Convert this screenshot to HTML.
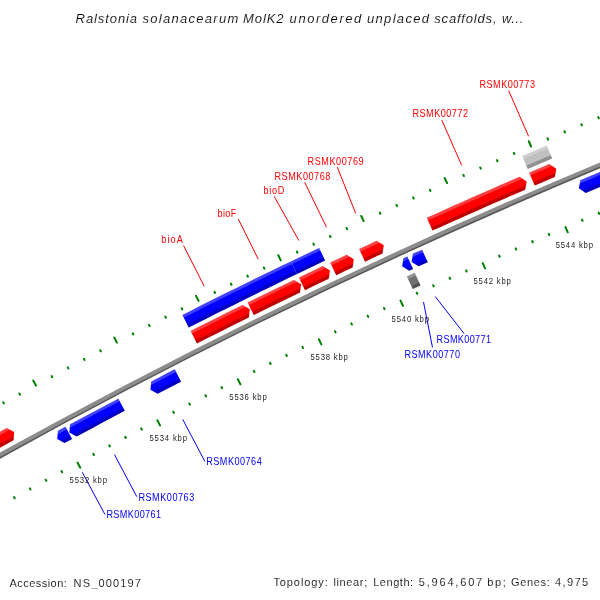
<!DOCTYPE html>
<html><head><meta charset="utf-8"><style>
html,body{margin:0;padding:0;background:#fff;width:600px;height:600px;overflow:hidden}
svg{display:block;font-family:"Liberation Sans",sans-serif;will-change:transform}
</style></head><body>
<svg width="600" height="600" viewBox="0 0 600 600">
<rect width="600" height="600" fill="#fff"/>
<defs><clipPath id="c0"><polygon points="182.42,314.94 191.42,310.4 200.43,305.86 209.44,301.35 218.47,296.85 227.5,292.36 236.54,287.89 245.58,283.44 254.64,279 263.7,274.57 272.77,270.16 281.84,265.77 290.93,261.39 297,274.01 287.93,278.37 278.88,282.76 269.83,287.16 260.79,291.57 251.76,296 242.73,300.45 233.72,304.91 224.71,309.38 215.7,313.87 206.71,318.38 197.72,322.9 188.74,327.43"/></clipPath>
<clipPath id="c1"><polygon points="290.93,261.39 300.31,256.89 309.7,252.4 319.1,247.93 325.1,260.57 315.73,265.03 306.36,269.51 297,274.01"/></clipPath>
<clipPath id="c2"><polygon points="522.26,156.05 530.4,152.55 538.56,149.07 546.71,145.59 552.19,158.48 544.05,161.94 535.92,165.42 527.79,168.91"/></clipPath>
<clipPath id="c3"><polygon points="-27.53,447.06 -18.97,442.28 -10.4,437.52 -1.83,432.78 6.75,428.05 14.17,431.96 13.5,440.31 4.94,445.03 -3.61,449.77 -12.16,454.52 -20.7,459.28"/></clipPath>
<clipPath id="c4"><polygon points="190.64,330.95 199.28,326.59 207.92,322.24 216.58,317.91 225.24,313.59 233.9,309.28 242.58,304.99 249.81,309.22 248.78,317.54 240.12,321.82 231.48,326.12 222.84,330.43 214.21,334.75 205.58,339.09 196.96,343.45"/></clipPath>
<clipPath id="c5"><polygon points="247.56,302.53 256.81,297.98 266.08,293.44 275.35,288.92 284.63,284.42 293.91,279.93 301.1,284.24 299.99,292.54 290.73,297.02 281.47,301.51 272.22,306.02 262.98,310.54 253.75,315.09"/></clipPath>
<clipPath id="c6"><polygon points="298.92,277.52 306.86,273.71 314.8,269.91 322.75,266.12 329.91,270.47 328.76,278.76 320.83,282.54 312.91,286.33 304.99,290.14"/></clipPath>
<clipPath id="c7"><polygon points="330.23,262.57 338.42,258.69 346.62,254.83 353.77,259.2 352.58,267.5 344.4,271.35 336.22,275.22"/></clipPath>
<clipPath id="c8"><polygon points="359.15,248.96 367.89,244.88 376.64,240.82 383.76,245.23 382.52,253.52 373.8,257.57 365.08,261.64"/></clipPath>
<clipPath id="c9"><polygon points="426.76,217.86 436.02,213.68 445.28,209.52 454.55,205.37 463.83,201.24 473.12,197.12 482.41,193.02 491.71,188.94 501.01,184.87 510.33,180.81 519.65,176.78 526.65,181.38 525.2,189.63 515.9,193.66 506.61,197.7 497.33,201.76 488.05,205.83 478.78,209.92 469.52,214.03 460.26,218.15 451.01,222.29 441.77,226.45 432.53,230.61"/></clipPath>
<clipPath id="c10"><polygon points="529.18,172.67 535.89,169.79 542.6,166.91 549.32,164.05 556.3,168.68 554.8,176.93 548.1,179.79 541.4,182.65 534.71,185.53"/></clipPath>
<clipPath id="c11"><polygon points="57.22,439.11 57.97,430.86 65.5,426.79 72.05,438.94 64.53,443"/></clipPath>
<clipPath id="c12"><polygon points="69.32,432.57 70.09,424.32 78.12,420.01 86.15,415.71 94.2,411.42 102.24,407.15 110.3,402.89 118.36,398.64 124.79,410.85 116.74,415.09 108.71,419.34 100.68,423.61 92.66,427.88 84.64,432.17 76.63,436.47"/></clipPath>
<clipPath id="c13"><polygon points="150.39,389.68 151.29,381.44 159.1,377.4 166.92,373.37 174.75,369.35 181.05,381.63 173.24,385.64 165.44,389.66 157.64,393.7"/></clipPath>
<clipPath id="c14"><polygon points="402.15,266.37 403.43,258.18 407.32,256.39 413.08,268.94 409.2,270.72"/></clipPath>
<clipPath id="c15"><polygon points="411.62,262.01 412.92,253.83 422.03,249.66 427.75,262.22 418.66,266.37"/></clipPath>
<clipPath id="c16"><polygon points="578.81,188.36 580.36,180.22 589.24,176.48 598.13,172.76 607.02,169.06 615.92,165.37 624.82,161.69 633.74,158.03 638.97,170.79 630.08,174.45 621.2,178.12 612.32,181.8 603.45,185.5 594.58,189.21 585.72,192.94"/></clipPath>
<clipPath id="c17"><polygon points="406.89,276.4 414.74,272.8 420.58,285.52 412.75,289.12"/></clipPath></defs>
<path d="M-71.88 496.16 A5984.6 5984.6 0 0 1 670.13 136.66" stroke="#8c8c8c" stroke-width="5.3" fill="none"/>
<path d="M-70.93 497.81 A5982.7 5982.7 0 0 1 670.84 138.43" stroke="#000" stroke-opacity="0.38" stroke-width="1.5" fill="none"/>
<polygon points="182.42,314.94 191.42,310.4 200.43,305.86 209.44,301.35 218.47,296.85 227.5,292.36 236.54,287.89 245.58,283.44 254.64,279 263.7,274.57 272.77,270.16 281.84,265.77 290.93,261.39 297,274.01 287.93,278.37 278.88,282.76 269.83,287.16 260.79,291.57 251.76,296 242.73,300.45 233.72,304.91 224.71,309.38 215.7,313.87 206.71,318.38 197.72,322.9 188.74,327.43" fill="#0000ff"/>
<g clip-path="url(#c0)">
<polygon points="172.59,318.8 181.64,314.22 190.7,309.64 199.76,305.08 208.83,300.54 217.91,296.01 227,291.49 236.1,287 245.2,282.51 254.31,278.05 263.43,273.59 272.55,269.16 281.68,264.74 290.82,260.33 299.97,255.94 301.67,259.49 292.53,263.88 283.4,268.28 274.27,272.7 265.15,277.14 256.04,281.58 246.94,286.05 237.84,290.53 228.75,295.02 219.67,299.54 210.59,304.06 201.53,308.6 192.47,313.16 183.42,317.73 174.37,322.32" fill="#fff" fill-opacity="0.25"/>
<polygon points="177.8,329.06 186.83,324.48 195.87,319.91 204.92,315.36 213.97,310.82 223.04,306.3 232.11,301.8 241.19,297.31 250.27,292.83 259.36,288.38 268.46,283.93 277.57,279.5 286.69,275.09 295.81,270.69 304.94,266.31 306.88,270.37 297.76,274.75 288.64,279.14 279.54,283.55 270.43,287.98 261.34,292.42 252.26,296.87 243.18,301.34 234.11,305.83 225.04,310.33 215.99,314.85 206.94,319.38 197.9,323.93 188.86,328.49 179.84,333.07" fill="#000" fill-opacity="0.25"/>
</g>
<polygon points="290.93,261.39 300.31,256.89 309.7,252.4 319.1,247.93 325.1,260.57 315.73,265.03 306.36,269.51 297,274.01" fill="#0000ff"/>
<g clip-path="url(#c1)">
<polygon points="281.02,265.06 290.44,260.52 299.86,255.99 309.29,251.49 318.73,247 328.17,242.52 329.86,246.08 320.42,250.56 310.98,255.04 301.56,259.55 292.14,264.07 282.74,268.6" fill="#fff" fill-opacity="0.25"/>
<polygon points="286.03,275.41 295.42,270.88 304.83,266.36 314.24,261.87 323.66,257.38 333.09,252.92 335.01,256.99 325.59,261.45 316.17,265.93 306.77,270.42 297.37,274.93 287.98,279.46" fill="#000" fill-opacity="0.25"/>
</g>
<polygon points="522.26,156.05 530.4,152.55 538.56,149.07 546.71,145.59 552.19,158.48 544.05,161.94 535.92,165.42 527.79,168.91" fill="#c0c0c0"/>
<g clip-path="url(#c2)">
<polygon points="512.21,159.29 520.95,155.52 529.71,151.76 538.47,148.02 547.23,144.29 556,140.57 557.54,144.2 548.77,147.91 540.01,151.64 531.26,155.38 522.51,159.14 513.77,162.91" fill="#fff" fill-opacity="0.25"/>
<polygon points="516.77,169.85 525.5,166.09 534.24,162.33 542.98,158.6 551.73,154.87 560.48,151.16 562.23,155.31 553.49,159.01 544.74,162.74 536.01,166.47 527.28,170.22 518.55,173.98" fill="#000" fill-opacity="0.25"/>
</g>
<polygon points="-27.53,447.06 -18.97,442.28 -10.4,437.52 -1.83,432.78 6.75,428.05 14.17,431.96 13.5,440.31 4.94,445.03 -3.61,449.77 -12.16,454.52 -20.7,459.28" fill="#ff0000"/>
<g clip-path="url(#c3)">
<polygon points="-37.16,451.31 -29.09,446.78 -21.01,442.27 -12.92,437.78 -4.82,433.29 3.28,428.82 11.39,424.36 19.51,419.91 21.4,423.36 13.29,427.81 5.18,432.27 -2.91,436.74 -11,441.22 -19.09,445.72 -27.16,450.22 -35.23,454.74" fill="#fff" fill-opacity="0.25"/>
<polygon points="-31.53,461.34 -23.47,456.82 -15.41,452.32 -7.34,447.83 0.74,443.35 8.83,438.89 16.93,434.44 25.03,430 27.19,433.94 19.09,438.38 11,442.83 2.92,447.29 -5.15,451.76 -13.22,456.25 -21.28,460.75 -29.33,465.26" fill="#000" fill-opacity="0.25"/>
</g>
<polygon points="190.64,330.95 199.28,326.59 207.92,322.24 216.58,317.91 225.24,313.59 233.9,309.28 242.58,304.99 249.81,309.22 248.78,317.54 240.12,321.82 231.48,326.12 222.84,330.43 214.21,334.75 205.58,339.09 196.96,343.45" fill="#ff0000"/>
<g clip-path="url(#c4)">
<polygon points="180.84,334.8 190.17,330.07 199.5,325.36 208.84,320.66 218.19,315.98 227.55,311.32 236.92,306.67 246.29,302.04 255.68,297.42 257.41,300.96 248.04,305.57 238.67,310.2 229.31,314.84 219.95,319.51 210.61,324.18 201.27,328.88 191.94,333.59 182.62,338.32" fill="#fff" fill-opacity="0.25"/>
<polygon points="186.05,345.06 195.36,340.33 204.67,335.63 214,330.94 223.33,326.27 232.67,321.61 242.02,316.97 251.38,312.35 260.75,307.74 262.73,311.78 253.37,316.39 244.02,321.01 234.68,325.64 225.34,330.3 216.02,334.96 206.7,339.65 197.39,344.35 188.09,349.07" fill="#000" fill-opacity="0.25"/>
</g>
<polygon points="247.56,302.53 256.81,297.98 266.08,293.44 275.35,288.92 284.63,284.42 293.91,279.93 301.1,284.24 299.99,292.54 290.73,297.02 281.47,301.51 272.22,306.02 262.98,310.54 253.75,315.09" fill="#ff0000"/>
<g clip-path="url(#c5)">
<polygon points="237.72,306.27 246.37,302 255.02,297.74 263.68,293.5 272.35,289.27 281.02,285.05 289.7,280.85 298.39,276.66 307.09,272.49 308.79,276.04 300.1,280.21 291.42,284.4 282.74,288.6 274.07,292.81 265.41,297.04 256.76,301.28 248.11,305.54 239.47,309.8" fill="#fff" fill-opacity="0.25"/>
<polygon points="242.82,316.58 251.45,312.32 260.09,308.07 268.73,303.83 277.38,299.61 286.04,295.4 294.71,291.21 303.38,287.03 312.05,282.86 314,286.92 305.33,291.08 296.66,295.26 288,299.45 279.35,303.65 270.71,307.87 262.07,312.11 253.44,316.35 244.82,320.61" fill="#000" fill-opacity="0.25"/>
</g>
<polygon points="298.92,277.52 306.86,273.71 314.8,269.91 322.75,266.12 329.91,270.47 328.76,278.76 320.83,282.54 312.91,286.33 304.99,290.14" fill="#ff0000"/>
<g clip-path="url(#c6)">
<polygon points="289.04,281.17 298.41,276.65 307.79,272.15 317.17,267.67 326.56,263.2 335.96,258.75 337.64,262.31 328.25,266.76 318.86,271.23 309.49,275.71 300.12,280.21 290.76,284.72" fill="#fff" fill-opacity="0.25"/>
<polygon points="294.05,291.53 303.4,287.02 312.75,282.53 322.12,278.05 331.49,273.59 340.87,269.15 342.79,273.22 333.42,277.66 324.05,282.11 314.7,286.58 305.35,291.07 296,295.58" fill="#000" fill-opacity="0.25"/>
</g>
<polygon points="330.23,262.57 338.42,258.69 346.62,254.83 353.77,259.2 352.58,267.5 344.4,271.35 336.22,275.22" fill="#ff0000"/>
<g clip-path="url(#c7)">
<polygon points="320.33,266.16 328.23,262.41 336.13,258.67 344.04,254.94 351.95,251.22 359.87,247.52 361.54,251.09 353.62,254.79 345.71,258.51 337.81,262.23 329.91,265.97 322.02,269.72" fill="#fff" fill-opacity="0.25"/>
<polygon points="325.27,276.55 333.15,272.8 341.04,269.07 348.93,265.35 356.83,261.63 364.74,257.94 366.64,262.01 358.74,265.71 350.85,269.42 342.96,273.14 335.08,276.87 327.21,280.61" fill="#000" fill-opacity="0.25"/>
</g>
<polygon points="359.15,248.96 367.89,244.88 376.64,240.82 383.76,245.23 382.52,253.52 373.8,257.57 365.08,261.64" fill="#ff0000"/>
<g clip-path="url(#c8)">
<polygon points="349.23,252.5 357.36,248.69 365.49,244.89 373.63,241.11 381.77,237.34 389.92,233.58 391.57,237.16 383.42,240.91 375.29,244.68 367.16,248.46 359.03,252.26 350.91,256.06" fill="#fff" fill-opacity="0.25"/>
<polygon points="354.12,262.91 362.23,259.11 370.35,255.32 378.47,251.54 386.6,247.78 394.73,244.02 396.61,248.11 388.49,251.86 380.36,255.62 372.25,259.4 364.14,263.18 356.04,266.98" fill="#000" fill-opacity="0.25"/>
</g>
<polygon points="426.76,217.86 436.02,213.68 445.28,209.52 454.55,205.37 463.83,201.24 473.12,197.12 482.41,193.02 491.71,188.94 501.01,184.87 510.33,180.81 519.65,176.78 526.65,181.38 525.2,189.63 515.9,193.66 506.61,197.7 497.33,201.76 488.05,205.83 478.78,209.92 469.52,214.03 460.26,218.15 451.01,222.29 441.77,226.45 432.53,230.61" fill="#ff0000"/>
<g clip-path="url(#c9)">
<polygon points="416.8,221.28 425.71,217.24 434.63,213.21 443.55,209.2 452.47,205.2 461.41,201.22 470.35,197.25 479.3,193.3 488.25,189.36 497.21,185.44 506.18,181.53 515.15,177.63 524.13,173.75 533.12,169.89 534.67,173.51 525.69,177.37 516.72,181.25 507.75,185.14 498.79,189.05 489.83,192.97 480.89,196.9 471.95,200.86 463.01,204.82 454.08,208.8 445.16,212.79 436.24,216.8 427.34,220.83 418.43,224.86" fill="#fff" fill-opacity="0.25"/>
<polygon points="421.56,231.75 430.45,227.71 439.35,223.7 448.25,219.69 457.17,215.7 466.08,211.73 475.01,207.77 483.94,203.82 492.87,199.89 501.82,195.97 510.77,192.07 519.72,188.19 528.68,184.31 537.65,180.45 539.43,184.59 530.46,188.44 521.51,192.31 512.56,196.2 503.62,200.1 494.68,204.01 485.75,207.94 476.83,211.88 467.91,215.84 459,219.81 450.1,223.8 441.2,227.8 432.31,231.81 423.42,235.84" fill="#000" fill-opacity="0.25"/>
</g>
<polygon points="529.18,172.67 535.89,169.79 542.6,166.91 549.32,164.05 556.3,168.68 554.8,176.93 548.1,179.79 541.4,182.65 534.71,185.53" fill="#ff0000"/>
<g clip-path="url(#c10)">
<polygon points="519.15,175.9 527.88,172.14 536.6,168.39 545.34,164.66 554.08,160.94 562.82,157.23 564.35,160.86 555.62,164.56 546.88,168.28 538.15,172.01 529.43,175.76 520.72,179.52" fill="#fff" fill-opacity="0.25"/>
<polygon points="523.72,186.46 532.42,182.7 541.13,178.96 549.85,175.23 558.57,171.52 567.3,167.82 569.05,171.97 560.33,175.66 551.61,179.37 542.9,183.1 534.2,186.84 525.5,190.59" fill="#000" fill-opacity="0.25"/>
</g>
<polygon points="57.22,439.11 57.97,430.86 65.5,426.79 72.05,438.94 64.53,443" fill="#0000ff"/>
<g clip-path="url(#c11)">
<polygon points="44.28,437.15 51.76,433.09 59.24,429.04 66.72,425 74.21,420.97 76.06,424.4 68.57,428.43 61.09,432.47 53.62,436.51 46.15,440.57" fill="#fff" fill-opacity="0.25"/>
<polygon points="49.71,447.12 57.17,443.06 64.63,439.02 72.1,434.99 79.58,430.97 81.69,434.89 74.22,438.91 66.75,442.94 59.29,446.98 51.84,451.02" fill="#000" fill-opacity="0.25"/>
</g>
<polygon points="69.32,432.57 70.09,424.32 78.12,420.01 86.15,415.71 94.2,411.42 102.24,407.15 110.3,402.89 118.36,398.64 124.79,410.85 116.74,415.09 108.71,419.34 100.68,423.61 92.66,427.88 84.64,432.17 76.63,436.47" fill="#0000ff"/>
<g clip-path="url(#c12)">
<polygon points="56.39,430.58 65.21,425.82 74.03,421.07 82.86,416.34 91.7,411.62 100.55,406.92 109.4,402.23 118.26,397.56 127.13,392.9 128.94,396.36 120.08,401.01 111.22,405.68 102.37,410.36 93.53,415.06 84.7,419.77 75.87,424.5 67.06,429.25 58.25,434" fill="#fff" fill-opacity="0.25"/>
<polygon points="61.79,440.56 70.59,435.81 79.4,431.07 88.21,426.35 97.03,421.64 105.87,416.95 114.7,412.27 123.55,407.6 132.4,402.96 134.47,406.9 125.62,411.54 116.78,416.2 107.95,420.88 99.13,425.57 90.31,430.27 81.5,434.99 72.7,439.72 63.91,444.47" fill="#000" fill-opacity="0.25"/>
</g>
<polygon points="150.39,389.68 151.29,381.44 159.1,377.4 166.92,373.37 174.75,369.35 181.05,381.63 173.24,385.64 165.44,389.66 157.64,393.7" fill="#0000ff"/>
<g clip-path="url(#c13)">
<polygon points="137.49,387.49 146.7,382.7 155.91,377.93 165.12,373.17 174.35,368.43 183.59,363.7 185.36,367.18 176.13,371.9 166.91,376.64 157.7,381.39 148.49,386.16 139.3,390.94" fill="#fff" fill-opacity="0.25"/>
<polygon points="142.74,397.55 151.93,392.77 161.12,388.01 170.32,383.26 179.53,378.53 188.75,373.81 190.77,377.78 181.56,382.49 172.36,387.22 163.16,391.96 153.98,396.72 144.8,401.5" fill="#000" fill-opacity="0.25"/>
</g>
<polygon points="402.15,266.37 403.43,258.18 407.32,256.39 413.08,268.94 409.2,270.72" fill="#0000ff"/>
<g clip-path="url(#c14)">
<polygon points="389.37,263.57 398.37,259.41 407.38,255.27 416.39,251.14 418.01,254.68 409,258.81 400,262.95 391.01,267.11" fill="#fff" fill-opacity="0.25"/>
<polygon points="394.14,273.87 403.12,269.72 412.11,265.58 421.11,261.46 422.96,265.51 413.97,269.63 404.99,273.76 396.01,277.91" fill="#000" fill-opacity="0.25"/>
</g>
<polygon points="411.62,262.01 412.92,253.83 422.03,249.66 427.75,262.22 418.66,266.37" fill="#0000ff"/>
<g clip-path="url(#c15)">
<polygon points="398.84,259.19 406.9,255.49 414.97,251.79 423.04,248.11 431.11,244.43 432.72,247.98 424.65,251.65 416.59,255.33 408.53,259.03 400.48,262.73" fill="#fff" fill-opacity="0.25"/>
<polygon points="403.6,269.5 411.64,265.8 419.69,262.11 427.74,258.43 435.8,254.77 437.64,258.82 429.59,262.48 421.54,266.16 413.5,269.84 405.46,273.54" fill="#000" fill-opacity="0.25"/>
</g>
<polygon points="578.81,188.36 580.36,180.22 589.24,176.48 598.13,172.76 607.02,169.06 615.92,165.37 624.82,161.69 633.74,158.03 638.97,170.79 630.08,174.45 621.2,178.12 612.32,181.8 603.45,185.5 594.58,189.21 585.72,192.94" fill="#0000ff"/>
<g clip-path="url(#c16)">
<polygon points="566.13,185.15 575.72,181.09 585.31,177.05 594.91,173.03 604.52,169.02 614.13,165.02 623.75,161.05 633.38,157.09 643.02,153.15 644.49,156.76 634.86,160.7 625.24,164.65 615.62,168.63 606.01,172.62 596.41,176.62 586.82,180.64 577.23,184.68 567.65,188.74" fill="#fff" fill-opacity="0.25"/>
<polygon points="570.56,195.6 580.13,191.55 589.71,187.51 599.29,183.5 608.88,179.49 618.47,175.51 628.08,171.54 637.69,167.59 647.3,163.66 648.98,167.78 639.38,171.71 629.77,175.66 620.18,179.62 610.59,183.6 601.01,187.6 591.43,191.62 581.86,195.65 572.3,199.7" fill="#000" fill-opacity="0.25"/>
</g>
<polygon points="406.89,276.4 414.74,272.8 420.58,285.52 412.75,289.12" fill="#707070"/>
<g clip-path="url(#c17)">
<polygon points="397.03,279.86 405.94,275.74 414.86,271.64 423.78,267.55 425.42,271.14 416.5,275.22 407.59,279.32 398.68,283.44" fill="#fff" fill-opacity="0.25"/>
<polygon points="401.86,290.3 410.75,286.19 419.65,282.09 428.56,278.01 430.43,282.1 421.53,286.18 412.64,290.27 403.75,294.38" fill="#000" fill-opacity="0.25"/>
</g>
<path d="M14.06 497.15L14.69 498.28M29.86 488.39L30.49 489.53M3.86 403.39L3.24 402.25M45.69 479.68L46.32 480.82M19.95 394.6L19.33 393.46M61.55 471.01L62.17 472.15M35.93 385.6L33.22 380.58M77.58 462.66L80.29 467.68M52.21 377.17L51.6 376.02M93.34 453.83L93.96 454.98M68.38 368.52L67.77 367.38M109.28 445.31L109.89 446.46M84.57 359.93L83.97 358.78M125.24 436.84L125.85 437.99M100.8 351.39L100.19 350.24M141.23 428.42L141.83 429.57M116.9 342.62L114.27 337.57M157.38 420.31L160.01 425.37M133.32 334.45L132.72 333.29M173.28 411.72L173.87 412.88M149.61 326.05L149.02 324.89M189.34 403.45L189.93 404.61M165.94 317.7L165.35 316.54M205.43 395.22L206.02 396.38M182.29 309.4L181.7 308.24M221.54 387.05L222.13 388.21M198.53 300.89L195.97 295.79M237.81 379.19L240.37 384.28M215.06 292.96L214.48 291.8M253.84 370.84L254.42 372M231.48 284.81L230.91 283.65M270.03 362.81L270.6 363.97M247.93 276.72L247.36 275.55M286.24 354.83L286.81 356M264.41 268.67L263.84 267.5M302.47 346.9L303.04 348.07M280.77 260.4L278.29 255.27M318.86 339.28L321.34 344.42M297.43 252.72L296.86 251.55M335.02 331.18L335.58 332.35M313.97 244.83L313.41 243.65M351.32 323.4L351.88 324.57M330.54 236.98L329.99 235.8M367.66 315.67L368.21 316.84M347.13 229.18L346.58 228.01M384.01 307.98L384.56 309.16M363.63 221.17L361.23 216M400.51 300.62L402.91 305.79M380.39 213.74L379.85 212.56M416.79 292.76L417.33 293.95M397.06 206.1L396.52 204.92M433.21 285.23L433.75 286.41M413.74 198.51L413.21 197.32M449.66 277.75L450.19 278.93M430.45 190.96L429.92 189.78M466.13 270.31L466.66 271.5M447.07 183.2L444.74 177.99M482.74 263.2L485.06 268.41M463.94 176.03L463.42 174.84M499.13 255.6L499.66 256.78M480.72 168.64L480.2 167.45M515.67 248.31L516.19 249.5M497.52 161.3L497 160.11M532.23 241.08L532.75 242.27M514.35 154.01L513.83 152.82M548.81 233.9L549.32 235.09M531.07 146.5L528.83 141.26M565.53 227.04L567.77 232.28M548.06 139.59L547.55 138.39M582.03 219.68L582.54 220.88M564.95 132.46L564.44 131.26M598.68 212.65L599.18 213.85M581.86 125.37L581.36 124.17M615.35 205.67L615.85 206.87M598.79 118.34L598.29 117.14M632.03 198.74L632.53 199.94M615.63 111.09L613.47 105.81M648.86 192.14L651.02 197.41M632.72 104.43L632.23 103.23M665.47 185.03L665.96 186.24M649.71 97.56L649.23 96.35M682.22 178.26L682.71 179.46M666.73 90.73L666.25 89.53M698.99 171.53L699.47 172.74M683.77 83.96L683.29 82.75M715.78 164.86L716.26 166.06" stroke="#008000" stroke-width="2" stroke-linecap="round" fill="none"/>
<line x1="204.2" y1="286.2" x2="183.5" y2="245.5" stroke="#ff0000" stroke-width="1"/>
<line x1="258.3" y1="259.3" x2="238.3" y2="219" stroke="#ff0000" stroke-width="1"/>
<line x1="298.8" y1="240.5" x2="274.2" y2="196.4" stroke="#ff0000" stroke-width="1"/>
<line x1="326.5" y1="227.2" x2="304.7" y2="182.3" stroke="#ff0000" stroke-width="1"/>
<line x1="355.7" y1="213.4" x2="337.3" y2="167.1" stroke="#ff0000" stroke-width="1"/>
<line x1="461.7" y1="165.4" x2="441.8" y2="120.1" stroke="#ff0000" stroke-width="1"/>
<line x1="528.6" y1="136.3" x2="508.7" y2="90.7" stroke="#ff0000" stroke-width="1"/>
<line x1="82.3" y1="472.3" x2="104.9" y2="514.4" stroke="#0000ff" stroke-width="1"/>
<line x1="114.5" y1="454.7" x2="136.8" y2="496.7" stroke="#0000ff" stroke-width="1"/>
<line x1="182.7" y1="419.3" x2="204.8" y2="461.3" stroke="#0000ff" stroke-width="1"/>
<line x1="423.5" y1="302" x2="432.5" y2="347.5" stroke="#0000ff" stroke-width="1"/>
<line x1="435.2" y1="296.5" x2="464" y2="333.5" stroke="#0000ff" stroke-width="1"/>
<text transform="translate(161.3 243) scale(0.86 1)" x="0" y="0" fill="#ff0000" font-size="10.6" textLength="25" lengthAdjust="spacing">bioA</text>
<text transform="translate(217.5 217) scale(0.86 1)" x="0" y="0" fill="#ff0000" font-size="10.6" textLength="21.86" lengthAdjust="spacing">bioF</text>
<text transform="translate(263.6 193.6) scale(0.86 1)" x="0" y="0" fill="#ff0000" font-size="10.6" textLength="24.19" lengthAdjust="spacing">bioD</text>
<text transform="translate(274.4 180) scale(0.86 1)" x="0" y="0" fill="#ff0000" font-size="10.6" textLength="65.12" lengthAdjust="spacing">RSMK00768</text>
<text transform="translate(307.6 165) scale(0.86 1)" x="0" y="0" fill="#ff0000" font-size="10.6" textLength="65.12" lengthAdjust="spacing">RSMK00769</text>
<text transform="translate(412.5 117) scale(0.86 1)" x="0" y="0" fill="#ff0000" font-size="10.6" textLength="64.53" lengthAdjust="spacing">RSMK00772</text>
<text transform="translate(479.5 88) scale(0.86 1)" x="0" y="0" fill="#ff0000" font-size="10.6" textLength="64.53" lengthAdjust="spacing">RSMK00773</text>
<text transform="translate(106.4 517.6) scale(0.86 1)" x="0" y="0" fill="#0000ff" font-size="10.6" textLength="63.49" lengthAdjust="spacing">RSMK00761</text>
<text transform="translate(138.4 501) scale(0.86 1)" x="0" y="0" fill="#0000ff" font-size="10.6" textLength="64.94" lengthAdjust="spacing">RSMK00763</text>
<text transform="translate(206.25 465) scale(0.86 1)" x="0" y="0" fill="#0000ff" font-size="10.6" textLength="64.53" lengthAdjust="spacing">RSMK00764</text>
<text transform="translate(404.4 357.6) scale(0.86 1)" x="0" y="0" fill="#0000ff" font-size="10.6" textLength="64.65" lengthAdjust="spacing">RSMK00770</text>
<text transform="translate(436.6 342.6) scale(0.86 1)" x="0" y="0" fill="#0000ff" font-size="10.6" textLength="63.26" lengthAdjust="spacing">RSMK00771</text>
<text transform="translate(69.6 483) scale(0.86 1)" x="0" y="0" fill="#1e1e1e" font-size="9" textLength="43.49" lengthAdjust="spacing">5532 kbp</text>
<text transform="translate(149.5 441.25) scale(0.86 1)" x="0" y="0" fill="#1e1e1e" font-size="9" textLength="43.6" lengthAdjust="spacing">5534 kbp</text>
<text transform="translate(229.3 400) scale(0.86 1)" x="0" y="0" fill="#1e1e1e" font-size="9" textLength="43.49" lengthAdjust="spacing">5536 kbp</text>
<text transform="translate(310.5 360.3) scale(0.86 1)" x="0" y="0" fill="#1e1e1e" font-size="9" textLength="43.49" lengthAdjust="spacing">5538 kbp</text>
<text transform="translate(391.6 322) scale(0.86 1)" x="0" y="0" fill="#1e1e1e" font-size="9" textLength="43.49" lengthAdjust="spacing">5540 kbp</text>
<text transform="translate(473.5 283.7) scale(0.86 1)" x="0" y="0" fill="#1e1e1e" font-size="9" textLength="43.49" lengthAdjust="spacing">5542 kbp</text>
<text transform="translate(555.7 248) scale(0.86 1)" x="0" y="0" fill="#1e1e1e" font-size="9" textLength="43.37" lengthAdjust="spacing">5544 kbp</text>
<text x="75.6" y="22.7" fill="#000" stroke="#fff" stroke-width="0.12" font-size="13" font-style="italic" textLength="61.5" lengthAdjust="spacing">Ralstonia</text>
<text x="142.4" y="22.7" fill="#000" stroke="#fff" stroke-width="0.12" font-size="13" font-style="italic" textLength="95.9" lengthAdjust="spacing">solanacearum</text>
<text x="243" y="22.7" fill="#000" stroke="#fff" stroke-width="0.12" font-size="13" font-style="italic" textLength="40.6" lengthAdjust="spacing">MolK2</text>
<text x="289.6" y="22.7" fill="#000" stroke="#fff" stroke-width="0.12" font-size="13" font-style="italic" textLength="71.7" lengthAdjust="spacing">unordered</text>
<text x="367" y="22.7" fill="#000" stroke="#fff" stroke-width="0.12" font-size="13" font-style="italic" textLength="62" lengthAdjust="spacing">unplaced</text>
<text x="434.3" y="22.7" fill="#000" stroke="#fff" stroke-width="0.12" font-size="13" font-style="italic" textLength="62.2" lengthAdjust="spacing">scaffolds,</text>
<text x="502.1" y="22.7" fill="#000" stroke="#fff" stroke-width="0.12" font-size="13" font-style="italic" textLength="21.3" lengthAdjust="spacing">w...</text>
<text x="9.5" y="586.7" fill="#000" stroke="#fff" stroke-width="0.12" font-size="11"  textLength="57.3" lengthAdjust="spacing">Accession:</text>
<text x="73.6" y="586.7" fill="#000" stroke="#fff" stroke-width="0.12" font-size="11"  textLength="67.2" lengthAdjust="spacing">NS_000197</text>
<text x="273.4" y="586.4" fill="#000" stroke="#fff" stroke-width="0.12" font-size="11"  textLength="54.35" lengthAdjust="spacing">Topology:</text>
<text x="333.4" y="586.4" fill="#000" stroke="#fff" stroke-width="0.12" font-size="11"  textLength="33.8" lengthAdjust="spacing">linear;</text>
<text x="373.2" y="586.4" fill="#000" stroke="#fff" stroke-width="0.12" font-size="11"  textLength="39.9" lengthAdjust="spacing">Length:</text>
<text x="418.8" y="586.4" fill="#000" stroke="#fff" stroke-width="0.12" font-size="11"  textLength="63.4" lengthAdjust="spacing">5,964,607</text>
<text x="487.3" y="586.4" fill="#000" stroke="#fff" stroke-width="0.12" font-size="11"  textLength="18.4" lengthAdjust="spacing">bp;</text>
<text x="511" y="586.4" fill="#000" stroke="#fff" stroke-width="0.12" font-size="11"  textLength="38.7" lengthAdjust="spacing">Genes:</text>
<text x="555.1" y="586.4" fill="#000" stroke="#fff" stroke-width="0.12" font-size="11"  textLength="33.1" lengthAdjust="spacing">4,975</text>
</svg></body></html>
